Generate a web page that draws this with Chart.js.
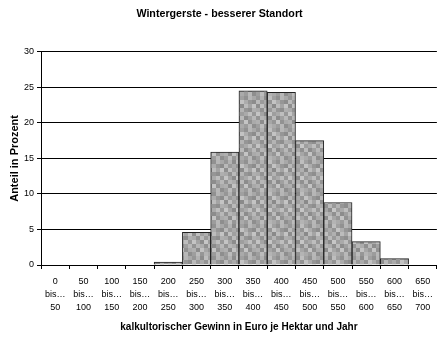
<!DOCTYPE html>
<html>
<head>
<meta charset="utf-8">
<script src="https://cdn.jsdelivr.net/npm/chart.js@4/dist/chart.umd.min.js"></script>
<style>
  html, body { margin: 0; padding: 0; background: #fff; }
  #wrap { width: 439px; height: 337px; position: relative; }
</style>
</head>
<body>
<div id="wrap"><canvas id="histChart"></canvas></div>
<script>
// Gewinnklassen (Euro je Hektar und Jahr)
const klasseVon = [0, 50, 100, 150, 200, 250, 300, 350, 400, 450, 500, 550, 600, 650];
const klasseBis = [50, 100, 150, 200, 250, 300, 350, 400, 450, 500, 550, 600, 650, 700];
// Anteil in Prozent je Klasse
const anteil = [0, 0, 0, 0, 0.4, 4.6, 15.9, 24.5, 24.3, 17.5, 8.8, 3.3, 0.9, 0];
const yTicks = [0, 5, 10, 15, 20, 25, 30];

const labels = klasseVon.map((v, i) => [String(v), 'bis…', String(klasseBis[i])]);

// Grau-Kachelmuster für die Säulen
function makePattern(ctx) {
  const shades = [
    [150, 178, 140, 190, 160, 145, 182, 168],
    [185, 155, 170, 148, 195, 172, 150, 140],
    [142, 192, 160, 176, 138, 188, 164, 196],
    [170, 146, 186, 154, 180, 150, 142, 175],
    [196, 164, 140, 198, 158, 170, 190, 152],
    [148, 182, 172, 144, 186, 140, 160, 184],
    [176, 140, 194, 166, 150, 196, 146, 170],
    [158, 188, 150, 180, 170, 156, 184, 142]
  ];
  const c = document.createElement('canvas');
  c.width = 32; c.height = 32;
  const g = c.getContext('2d');
  shades.forEach((row, r) => row.forEach((s, k) => {
    g.fillStyle = `rgb(${s},${s},${s})`;
    g.fillRect(k * 4, r * 4, 4, 4);
  }));
  return ctx.createPattern(c, 'repeat');
}

const canvas = document.getElementById('histChart');
const ctx = canvas.getContext('2d');
const fontFam = '"Liberation Sans", Arial, sans-serif';

new Chart(ctx, {
  type: 'bar',
  data: {
    labels: labels,
    datasets: [{
      data: anteil,
      backgroundColor: makePattern(ctx),
      borderColor: '#222',
      borderWidth: 1,
      barPercentage: 1,
      categoryPercentage: 1
    }]
  },
  options: {
    responsive: true,
    maintainAspectRatio: false,
    animation: false,
    layout: { padding: { left: 0, right: 0, top: 0, bottom: 0 } },
    plugins: {
      legend: { display: false },
      tooltip: { enabled: false },
      title: {
        display: true,
        text: 'Wintergerste - besserer Standort',
        color: '#000',
        font: { family: fontFam, size: 10.7, weight: 'bold' },
        padding: { top: 8, bottom: 31 }
      }
    },
    scales: {
      x: {
        grid: { display: true, drawOnChartArea: false, drawTicks: true, tickLength: 4, color: '#000', offset: true },
        border: { display: true, color: '#000', width: 1 },
        ticks: {
          color: '#000',
          font: { family: fontFam, size: 9, lineHeight: 1.45 },
          padding: 6,
          maxRotation: 0,
          autoSkip: false
        },
        title: {
          display: true,
          text: 'kalkultorischer Gewinn in Euro je Hektar und Jahr',
          color: '#000',
          font: { family: fontFam, size: 10, weight: 'bold' },
          padding: { top: 4, bottom: 4 }
        },
        afterFit: s => { s.height = 72; }
      },
      y: {
        min: 0,
        max: 30,
        afterBuildTicks: s => { s.ticks = yTicks.map(v => ({ value: v })); },
        grid: { color: '#000', lineWidth: 1, tickLength: 4 },
        border: { display: true, color: '#000', width: 1 },
        ticks: {
          color: '#000',
          font: { family: fontFam, size: 9 },
          padding: 3
        },
        title: {
          display: true,
          text: 'Anteil in Prozent',
          color: '#000',
          font: { family: fontFam, size: 11, weight: 'bold' },
          padding: { top: 8, bottom: 4 }
        },
        afterFit: s => { s.width = 41; }
      }
    }
  }
});
</script>
</body>
</html>
